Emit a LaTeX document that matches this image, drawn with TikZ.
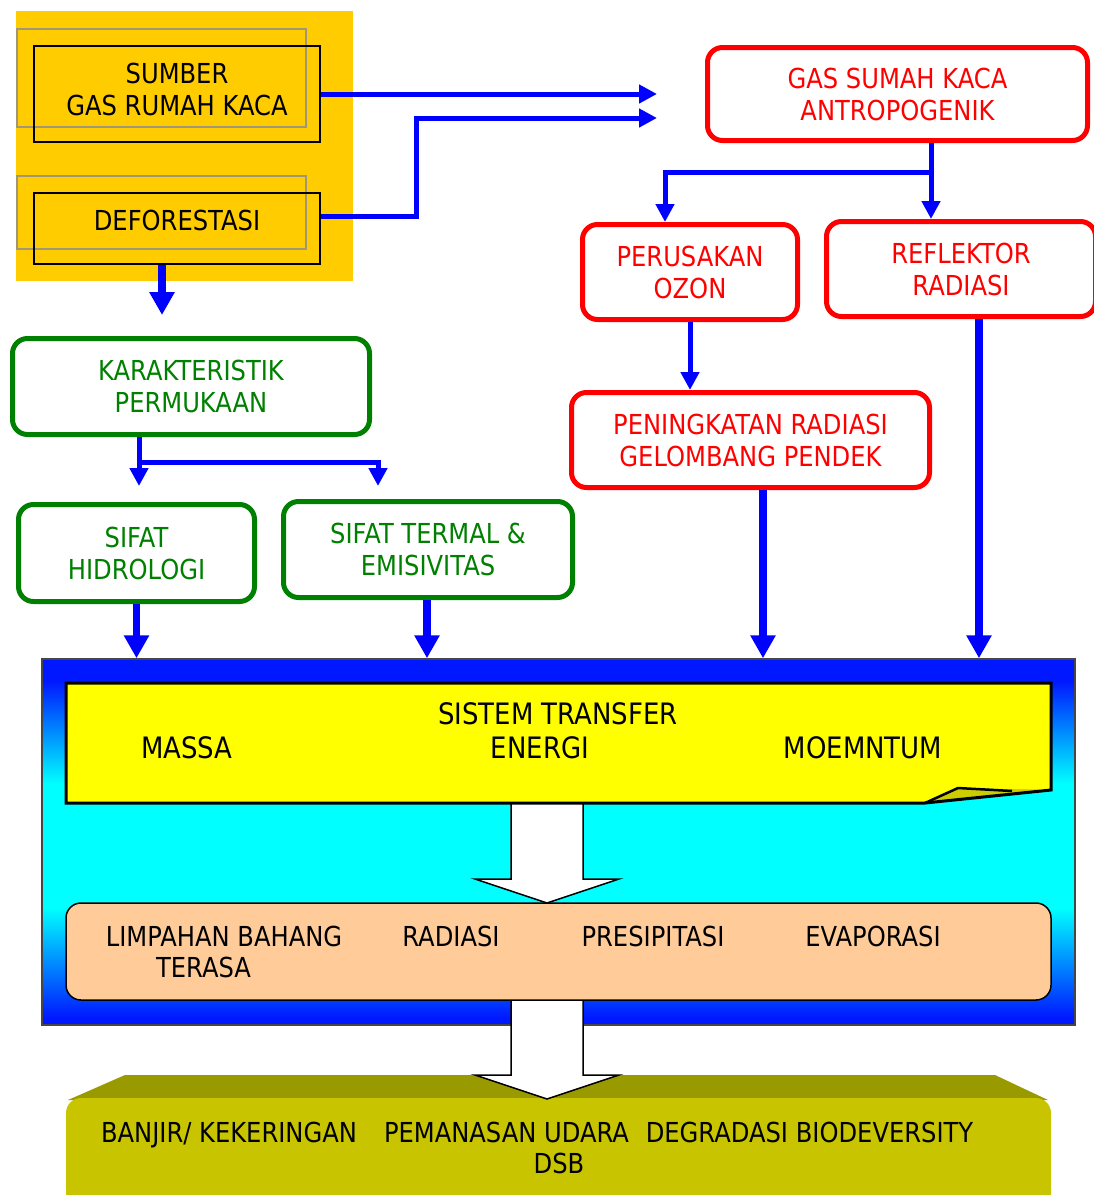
\documentclass[tikz,border=0pt]{standalone}
\usepackage{fontspec}
\setmainfont[FakeStretch=0.88]{DejaVu Sans}
\usetikzlibrary{arrows.meta}

\definecolor{arrowblue}{RGB}{0,0,255}
\definecolor{boxred}{RGB}{255,0,0}
\definecolor{boxgreen}{RGB}{0,128,0}
\definecolor{orangebg}{RGB}{255,204,0}
\definecolor{yellowbox}{RGB}{255,255,0}
\definecolor{peach}{RGB}{255,204,153}
\definecolor{olivetop}{RGB}{153,153,0}
\definecolor{olivefront}{RGB}{200,196,0}
\definecolor{foldolive}{RGB}{204,204,0}
\definecolor{deepblue}{RGB}{0,24,255}
\definecolor{cyanc}{RGB}{0,255,255}
\definecolor{grayframe}{RGB}{160,150,120}
\definecolor{frameline}{RGB}{70,70,70}

\pgfdeclareverticalshading{bluecyan}{100bp}{color(0bp)=(deepblue); color(26bp)=(deepblue); color(41bp)=(cyanc); color(58bp)=(cyanc); color(72bp)=(deepblue); color(100bp)=(deepblue)}

\begin{document}
\begin{tikzpicture}[x=1pt,y=-1pt,
  txt/.style={font=\fontsize{27.5}{32}\selectfont, align=center, inner sep=0pt},
  bigtxt/.style={font=\fontsize{29.5}{34}\selectfont, inner sep=0pt},
  srcbox/.style={draw=black, line width=2pt, inner sep=0pt},
  redbox/.style={draw=boxred, line width=5pt, rounded corners=15pt, text=boxred, fill=white, txt},
  greenbox/.style={draw=boxgreen, line width=5pt, rounded corners=15pt, text=boxgreen, fill=white, txt},
  conn/.style={draw=arrowblue, line width=5pt, line join=miter, -{Triangle[width=18pt,length=18pt]}},
  bigconn/.style={draw=arrowblue, line width=7.5pt, -{Triangle[width=24pt,length=23pt]}},
  blockarrow/.style={draw=black, line width=1.5pt, fill=white, line join=miter},
  guide/.style={draw=grayframe, line width=1.5pt},
  sysbox/.style={draw=frameline, line width=1.5pt, shade, shading=bluecyan, inner sep=0pt}
]
\useasboundingbox (0,0) rectangle (1094,1195);

% ---------- source block ----------
\fill[orangebg] (16,11) rectangle (353,281);
\draw[guide] (17,29) rectangle (306,127);
\draw[guide] (17,176) rectangle (306,249);
\node[srcbox, minimum width=286, minimum height=96] (sumber) at (177,94) {};
\node[txt] (sumbertxt) at (177,89) {SUMBER\\GAS RUMAH KACA};
\node[srcbox, minimum width=286, minimum height=71] (deforestasi) at (177,228.5) {};
\node[txt] (defotxt) at (177,220.5) {DEFORESTASI};

% ---------- red boxes ----------
\node[redbox, minimum width=380, minimum height=93] (gas) at (897.5,94) {GAS SUMAH KACA\\ANTROPOGENIK};
\node[redbox, minimum width=215, minimum height=95] (perusakan) at (690,272) {PERUSAKAN\\OZON};
\node[redbox, minimum width=269, minimum height=95] (reflektor) at (961,269) {REFLEKTOR\\RADIASI};
\node[redbox, minimum width=358, minimum height=95] (peningkatan) at (750.5,440) {PENINGKATAN RADIASI\\GELOMBANG PENDEK};

% ---------- green boxes ----------
\node[greenbox, minimum width=357, minimum height=96] (karakteristik) at (191,386.5) {KARAKTERISTIK\\PERMUKAAN};
\node[greenbox, minimum width=236, minimum height=97] (hidrologi) at (136.5,553) {SIFAT\\HIDROLOGI};
\node[greenbox, minimum width=289, minimum height=96] (termal) at (428,549.5) {SIFAT TERMAL \&\\EMISIVITAS};

% ---------- system block ----------
\node[sysbox, minimum width=1033, minimum height=366] (system) at (558.5,842) {};

% white arrow 1
\draw[blockarrow] (511,803) -- (511,879) -- (475,879) -- (547,903) -- (619,879) -- (583,879) -- (583,803);

% yellow box with folded corner
\fill[yellowbox] (66,683) -- (1051,683) -- (1051,790) -- (958,788) -- (925,803) -- (66,803) -- cycle;
\fill[foldolive] (925,803) -- (958,788) -- (1051,790) -- cycle;
\draw[line width=3pt, line join=miter] (66,683) -- (1051,683) -- (1051,790) -- (925,803) -- (66,803) -- cycle;
\draw[line width=2.5pt, line join=round] (925,803) -- (958,788) -- (1012,791);
\node[bigtxt] (sistem) at (558,714) {SISTEM TRANSFER};
\node[bigtxt] (massa) at (187,748) {MASSA};
\node[bigtxt] (energi) at (540,748) {ENERGI};
\node[bigtxt] (momentum) at (863,748) {MOEMNTUM};

% ---------- impact block ----------
\fill[olivetop] (125,1075) -- (995,1075) -- (1048,1100) -- (68,1100) -- cycle;
\fill[olivefront, rounded corners=15pt] (66,1098) rectangle (1051,1220);

% white arrow 2
\draw[blockarrow] (511,1000) -- (511,1075) -- (475,1075) -- (547,1099) -- (619,1075) -- (583,1075) -- (583,1000);

% peach box
\draw[fill=peach, line width=1.5pt, rounded corners=15pt] (66,903) rectangle (1051,1000);
\node[txt] (limpahan) at (224,936) {LIMPAHAN BAHANG};
\node[txt] (terasa) at (203.5,967) {TERASA};
\node[txt] (radiasi) at (451,936) {RADIASI};
\node[txt] (presipitasi) at (653,936) {PRESIPITASI};
\node[txt] (evaporasi) at (873,936) {EVAPORASI};

\node[txt, text depth=0pt] (banjir) at (229,1132) {BANJIR/ KEKERINGAN};
\node[txt] (pemanasan) at (506.5,1132) {PEMANASAN UDARA};
\node[txt] (degradasi) at (809.5,1132) {DEGRADASI BIODEVERSITY};
\node[txt] (dsb) at (559,1163) {DSB};

% ---------- connectors ----------
\coordinate (gasin1) at (657,94);
\coordinate (gasin2) at (657,118);
\coordinate (split) at (931,172);
\coordinate (karin) at (162,315);
\coordinate (hidin) at (139,486);
\coordinate (kbranch) at (139,462);
\coordinate (termin) at (378,486);

\draw[conn] (sumber.east) -- (gasin1);
\draw[conn] ([yshift=12.5pt]deforestasi.east) -- ++(95,0) |- (gasin2);
\draw[conn] (gas.south -| split) -- (reflektor.north -| split);
\draw[conn] (split) -| ([xshift=-25pt]perusakan.north);
\draw[conn] (perusakan.south) -- (perusakan.south |- peningkatan.north);
\draw[bigconn] ([xshift=12.5pt]peningkatan.south) -- ([xshift=12.5pt]peningkatan.south |- system.north);
\draw[bigconn] ([xshift=18pt]reflektor.south) -- ([xshift=18pt]reflektor.south |- system.north);
\draw[bigconn] ([xshift=-15pt]deforestasi.south) -- (karin);
\draw[conn] ([xshift=-52pt]karakteristik.south) -- (hidin);
\draw[conn] (kbranch) -| (termin);
\draw[bigconn] (hidrologi.south) -- (hidrologi.south |- system.north);
\draw[bigconn] ([xshift=-1pt]termal.south) -- ([xshift=-1pt]termal.south |- system.north);
\end{tikzpicture}
\end{document}
